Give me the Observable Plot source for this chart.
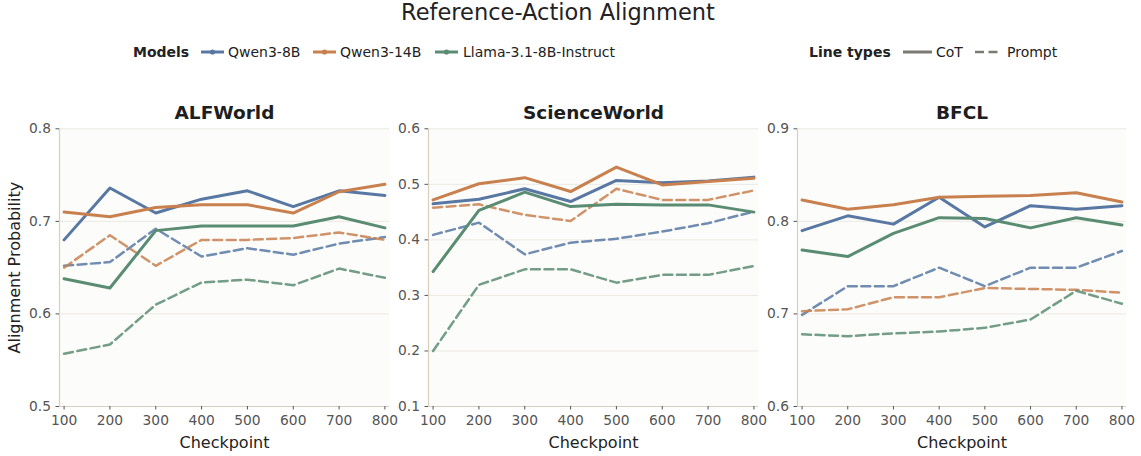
<!DOCTYPE html>
<html>
<head>
<meta charset="utf-8">
<script src="https://cdn.jsdelivr.net/npm/d3@7"></script>
<script src="https://cdn.jsdelivr.net/npm/@observablehq/plot@0.6"></script>
<style>
  html, body { margin: 0; padding: 0; background: #ffffff; }
  #root { position: relative; width: 1141px; height: 456px; font-family: "DejaVu Sans", sans-serif; color: #222; overflow: hidden; }
  .abs { position: absolute; white-space: nowrap; }
  .leg { font-size: 14px; line-height: 14px; top: 45px; color: #222; }
  .legb { font-weight: bold; }
</style>
</head>
<body>
<div id="root"></div>
<script>
// ---------- data ----------
const checkpoints = [100, 200, 300, 400, 500, 600, 700, 800];
const models = ["Qwen3-8B", "Qwen3-14B", "Llama-3.1-8B-Instruct"];
const modelColors = ["#5878a3", "#c8804f", "#5a8c73"];
const lineTypes = ["CoT", "Prompt"];
const benchmarks = ["ALFWorld", "ScienceWorld", "BFCL"];

// ALFWorld
const alfQwen8Cot     = [0.680, 0.736, 0.709, 0.724, 0.733, 0.716, 0.733, 0.728];
const alfQwen14Cot    = [0.710, 0.705, 0.715, 0.718, 0.718, 0.709, 0.732, 0.740];
const alfLlamaCot     = [0.638, 0.628, 0.690, 0.695, 0.695, 0.695, 0.705, 0.693];
const alfQwen8Prompt  = [0.652, 0.656, 0.692, 0.662, 0.671, 0.664, 0.676, 0.683];
const alfQwen14Prompt = [0.650, 0.685, 0.652, 0.680, 0.680, 0.682, 0.688, 0.680];
const alfLlamaPrompt  = [0.557, 0.567, 0.610, 0.634, 0.637, 0.631, 0.649, 0.639];

// ScienceWorld
const sciQwen8Cot     = [0.465, 0.473, 0.492, 0.469, 0.507, 0.503, 0.506, 0.513];
const sciQwen14Cot    = [0.472, 0.501, 0.512, 0.487, 0.531, 0.499, 0.505, 0.511];
const sciLlamaCot     = [0.343, 0.453, 0.486, 0.460, 0.464, 0.463, 0.463, 0.450];
const sciQwen8Prompt  = [0.409, 0.431, 0.374, 0.395, 0.402, 0.415, 0.430, 0.451];
const sciQwen14Prompt = [0.458, 0.464, 0.445, 0.434, 0.492, 0.472, 0.472, 0.489];
const sciLlamaPrompt  = [0.200, 0.319, 0.347, 0.347, 0.323, 0.337, 0.337, 0.353];

// BFCL
const bfclQwen8Cot     = [0.790, 0.806, 0.797, 0.826, 0.794, 0.817, 0.813, 0.817];
const bfclQwen14Cot    = [0.823, 0.813, 0.818, 0.826, 0.827, 0.828, 0.831, 0.821];
const bfclLlamaCot     = [0.769, 0.762, 0.787, 0.804, 0.803, 0.793, 0.804, 0.796];
const bfclQwen8Prompt  = [0.699, 0.730, 0.730, 0.750, 0.730, 0.750, 0.750, 0.768];
const bfclQwen14Prompt = [0.703, 0.705, 0.718, 0.718, 0.728, 0.727, 0.726, 0.723];
const bfclLlamaPrompt  = [0.678, 0.676, 0.679, 0.681, 0.685, 0.694, 0.725, 0.711];

const alfTicks  = [0.5, 0.6, 0.7, 0.8];
const sciTicks  = [0.1, 0.2, 0.3, 0.4, 0.5, 0.6];
const bfclTicks = [0.6, 0.7, 0.8, 0.9];

// ---------- build rows ----------
function rowsFor(seriesByModelType) {
  const rows = [];
  seriesByModelType.forEach(([model, type, values]) => {
    values.forEach((v, i) => rows.push({checkpoint: checkpoints[i], value: v, model, type}));
  });
  return rows;
}
const alfRows = rowsFor([
  [models[0], "CoT", alfQwen8Cot], [models[1], "CoT", alfQwen14Cot], [models[2], "CoT", alfLlamaCot],
  [models[0], "Prompt", alfQwen8Prompt], [models[1], "Prompt", alfQwen14Prompt], [models[2], "Prompt", alfLlamaPrompt]
]);
const sciRows = rowsFor([
  [models[0], "CoT", sciQwen8Cot], [models[1], "CoT", sciQwen14Cot], [models[2], "CoT", sciLlamaCot],
  [models[0], "Prompt", sciQwen8Prompt], [models[1], "Prompt", sciQwen14Prompt], [models[2], "Prompt", sciLlamaPrompt]
]);
const bfclRows = rowsFor([
  [models[0], "CoT", bfclQwen8Cot], [models[1], "CoT", bfclQwen14Cot], [models[2], "CoT", bfclLlamaCot],
  [models[0], "Prompt", bfclQwen8Prompt], [models[1], "Prompt", bfclQwen14Prompt], [models[2], "Prompt", bfclLlamaPrompt]
]);

const root = document.getElementById("root");

function panel(name, rows, ticks, box, showYLabel) {
  const yDomain = [ticks[0], ticks[ticks.length - 1]];
  const xDomain = [90, 810];
  const marks = [
    Plot.frame({fill: "#fcfcfa", stroke: "none"}),
    Plot.gridY(ticks, {stroke: "#ebe9e3", strokeOpacity: 1, strokeWidth: 1}),
    Plot.ruleX([xDomain[0]], {stroke: "#d6cfc2", strokeWidth: 1.2}),
    Plot.ruleY([yDomain[0]], {stroke: "#d6cfc2", strokeWidth: 1.2}),
    Plot.axisY(ticks, {tickSize: 3.5, tickPadding: 5, tickFormat: d3.format(".1f"), label: null, fontSize: 13.8}),
    Plot.axisX(checkpoints, {tickSize: 3.5, tickPadding: 5.5, label: null, fontSize: 13.8}),
    Plot.line(rows.filter(d => d.type === "Prompt"), {
      x: "checkpoint", y: "value", z: "model", stroke: "model",
      strokeWidth: 2.5, strokeDasharray: "9,4.5", strokeOpacity: 0.85
    }),
    Plot.line(rows.filter(d => d.type === "CoT"), {
      x: "checkpoint", y: "value", z: "model", stroke: "model",
      strokeWidth: 3
    }),
    Plot.text([name], {text: d => d, frameAnchor: "top", dy: -16, fontWeight: "bold", fontSize: 18.5, fill: "#1e1e1e", lineAnchor: "middle"}),
    Plot.text(["Checkpoint"], {text: d => d, frameAnchor: "bottom", dy: 36.5, fontSize: 16, fill: "#222", lineAnchor: "middle"})
  ];
  if (showYLabel) {
    marks.push(Plot.text(["Alignment Probability"], {text: d => d, frameAnchor: "left", dx: -45, rotate: -90, fontSize: 16, fill: "#222", lineAnchor: "middle", textAnchor: "middle"}));
  }
  const chart = Plot.plot({
    width: box.width, height: box.height,
    marginLeft: box.ml, marginRight: box.mr, marginTop: box.mt, marginBottom: box.mb,
    x: {domain: xDomain},
    y: {domain: yDomain},
    color: {domain: models, range: modelColors},
    style: {fontFamily: "DejaVu Sans, sans-serif", fontSize: "13.8px", color: "#555", background: "transparent", overflow: "visible"},
    marks
  });
  chart.style.position = "absolute";
  chart.style.left = box.left + "px";
  chart.style.top = box.top + "px";
  root.appendChild(chart);
}

panel(benchmarks[0], alfRows, alfTicks,
  {left: 0, top: 95, width: 405, height: 361, ml: 59, mr: 16, mt: 33.3, mb: 50}, true);
panel(benchmarks[1], sciRows, sciTicks,
  {left: 395, top: 95, width: 380, height: 361, ml: 33, mr: 17, mt: 33.3, mb: 50}, false);
panel(benchmarks[2], bfclRows, bfclTicks,
  {left: 765, top: 95, width: 376, height: 361, ml: 32, mr: 15, mt: 33.3, mb: 50}, false);

// ---------- title & legends ----------
function addText(txt, left, cls, extra) {
  const el = document.createElement("div");
  el.className = "abs " + cls;
  el.textContent = txt;
  el.style.left = left + "px";
  if (extra) Object.assign(el.style, extra);
  root.appendChild(el);
  return el;
}
addText("Reference-Action Alignment", 558, "", {
  top: "1px", fontSize: "22.5px", lineHeight: "23px", transform: "translateX(-50%)", color: "#222"
});

function swatch(left, width, color, dashed, dot) {
  const ns = "http://www.w3.org/2000/svg";
  const svg = document.createElementNS(ns, "svg");
  svg.setAttribute("width", width);
  svg.setAttribute("height", 10);
  svg.style.position = "absolute";
  svg.style.left = left + "px";
  svg.style.top = "47px";
  const line = document.createElementNS(ns, "line");
  line.setAttribute("x1", 0); line.setAttribute("x2", width);
  line.setAttribute("y1", 5); line.setAttribute("y2", 5);
  line.setAttribute("stroke", color);
  line.setAttribute("stroke-width", dashed ? 2.5 : 3);
  if (dashed) line.setAttribute("stroke-dasharray", "9,4.5");
  svg.appendChild(line);
  if (dot) {
    const c = document.createElementNS(ns, "circle");
    c.setAttribute("cx", width / 2); c.setAttribute("cy", 5); c.setAttribute("r", 2.6);
    c.setAttribute("fill", color);
    svg.appendChild(c);
  }
  root.appendChild(svg);
}

addText("Models", 133, "leg legb");
const modelLegend = [[201, 228], [313, 340], [435, 463]];
models.forEach((m, i) => {
  swatch(modelLegend[i][0], 23, modelColors[i], false, true);
  addText(m, modelLegend[i][1], "leg");
});

addText("Line types", 809, "leg legb");
swatch(903, 29, "#7b7a72", false, false);
addText(lineTypes[0], 936, "leg");
swatch(975, 27, "#7b7a72", true, false);
addText(lineTypes[1], 1007, "leg");
</script>
</body>
</html>
